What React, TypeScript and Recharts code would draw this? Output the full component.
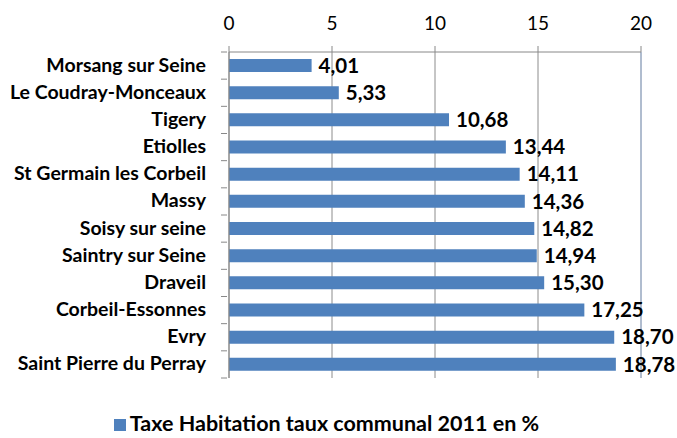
import React from "react";
import { BarChart, Bar, XAxis, YAxis, CartesianGrid, Legend, LabelList, ReferenceLine } from "recharts";

const categories = [
  "Morsang sur Seine",
  "Le Coudray-Monceaux",
  "Tigery",
  "Etiolles",
  "St Germain les Corbeil",
  "Massy",
  "Soisy sur seine",
  "Saintry sur Seine",
  "Draveil",
  "Corbeil-Essonnes",
  "Evry",
  "Saint Pierre du Perray",
];
const values = [4.01, 5.33, 10.68, 13.44, 14.11, 14.36, 14.82, 14.94, 15.3, 17.25, 18.7, 18.78];
const xTicks = [0, 5, 10, 15, 20];
const seriesName = "Taxe Habitation taux communal 2011 en %";

const data = categories.map((c, i) => ({ name: c, value: values[i] }));

const FONT = "Lato, 'Open Sans', sans-serif";

const CatTick = (props: any) => {
  const { x, y, payload, index, visibleTicksCount } = props;
  const off = payload.offset || 0;
  const ax = x + 6;
  return (
    <g>
      <line x1={ax - 6} x2={ax} y1={y - off} y2={y - off} stroke="#888" />
      {index === visibleTicksCount - 1 && (
        <line x1={ax - 6} x2={ax} y1={y + off} y2={y + off} stroke="#888" />
      )}
      <text
        x={x - 15}
        y={y}
        dy={6}
        textAnchor="end"
        fontFamily={FONT}
        fontWeight={700}
        fontSize={19.5}
        fill="#000"
      >
        {payload.value}
      </text>
    </g>
  );
};

export default function App() {
  return (
    <div style={{ position: "absolute", left: 0, top: 0, width: 677, height: 438, background: "#fff" }}>
      <BarChart
        width={677}
        height={438}
        data={data}
        layout="vertical"
        margin={{ top: 22, right: 36, bottom: 34, left: 0 }}
        style={{ overflow: "visible" }}
      >
        <CartesianGrid horizontal={false} vertical={true} stroke="#8c8c8c" />
        <XAxis
          type="number"
          orientation="top"
          domain={[0, 20]}
          ticks={xTicks}
          height={30}
          tickSize={6}
          tickMargin={16}
          stroke="#888"
          tick={{ fill: "#000", fontFamily: FONT, fontSize: 19 }}
        />
        <XAxis
          xAxisId="b"
          type="number"
          orientation="bottom"
          domain={[0, 20]}
          height={0}
          tick={false}
          tickLine={false}
          stroke="#9bb4d9"
        />
        <YAxis
          type="category"
          dataKey="name"
          width={229}
          tickLine={false}
          stroke="#888"
          interval={0}
          tick={<CatTick />}
        />
        <ReferenceLine x={20} stroke="#9bb4d9" />
        <Legend
          verticalAlign="bottom"
          align="center"
          iconType="square"
          iconSize={12}
          wrapperStyle={{ top: 410, left: 11, fontFamily: FONT, fontWeight: 700, fontSize: 21.5 }}
          formatter={(v: any) => <span style={{ color: "#000" }}>{v}</span>}
        />
        <Bar dataKey="value" name={seriesName} fill="#4F81BD" barSize={13} isAnimationActive={false}>
          <LabelList
            dataKey="value"
            position="right"
            offset={7}
            formatter={(v: any) => Number(v).toFixed(2).replace(".", ",")}
            style={{ fill: "#000", fontFamily: FONT, fontWeight: 700, fontSize: 20.5 }}
          />
        </Bar>
      </BarChart>
    </div>
  );
}
